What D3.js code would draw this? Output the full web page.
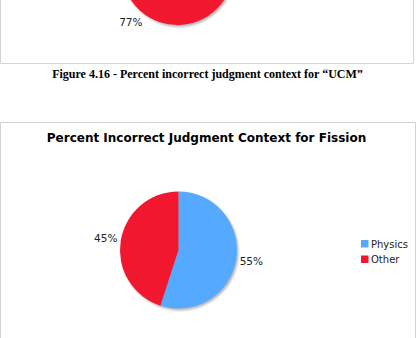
<!DOCTYPE html>
<html>
<head>
<meta charset="utf-8">
<script src="https://cdn.jsdelivr.net/npm/d3@7"></script>
<style>
  html, body { margin: 0; padding: 0; background: #fff; }
  svg { display: block; }
</style>
</head>
<body>
<svg id="chart" width="417" height="338"></svg>
<script>
const categories = ["Physics", "Other"];
const colors = ["#55aaff", "#f0172f"];
const ucmValues = [23, 77];
const fissionValues = [55, 45];
const captionText = "Figure 4.16 - Percent incorrect judgment context for \u201CUCM\u201D";
const titleText = "Percent Incorrect Judgment Context for Fission";

const W = 417, H = 338;
const svg = d3.select("#chart");
const defs = svg.append("defs");
const f = defs.append("filter").attr("id", "blur").attr("x", "-20%").attr("y", "-20%").attr("width", "140%").attr("height", "140%");
f.append("feGaussianBlur").attr("stdDeviation", 1);

const color = d3.scaleOrdinal().domain(categories).range(colors);
const pie = d3.pie().sort(null).value(d => d.value);

function drawPie(values, cx, cy, r) {
  const data = categories.map((c, i) => ({ cat: c, value: values[i] }));
  const total = d3.sum(values);
  const g = svg.append("g").attr("transform", `translate(${cx},${cy})`);
  g.append("circle").attr("cx", 1.5).attr("cy", 2).attr("r", r).attr("fill", "#b8b8b8").attr("filter", "url(#blur)");
  const arc = d3.arc().innerRadius(0).outerRadius(r);
  const arcs = pie(data);
  g.selectAll("path.slice").data(arcs).join("path").attr("class", "slice")
    .attr("d", arc).attr("fill", d => color(d.data.cat));
  const labelArc = d3.arc().innerRadius(r * 1.26).outerRadius(r * 1.26);
  // only labels that fall inside the visible page area (the top chart is cropped)
  const visible = arcs.filter(d => {
    const [x, y] = labelArc.centroid(d);
    return cy + y > 8 && cy + y < H - 8 && cx + x > 10 && cx + x < W - 10;
  });
  g.selectAll("text.lbl").data(visible).join("text").attr("class", "lbl")
    .attr("transform", d => `translate(${labelArc.centroid(d)})`)
    .attr("text-anchor", "middle").attr("dy", "0.35em")
    .style("font-family", "DejaVu Sans, Verdana, sans-serif").style("font-size", "10.5px").attr("fill", "#222")
    .text(d => Math.round(d.data.value / total * 100) + "%");
}

// top (cut-off) chart box
svg.append("path").attr("d", "M0.5,-5 V63.5 H413.5 V-5").attr("fill", "none").attr("stroke", "#d4d4d4");
drawPie(ucmValues, 177.5, -31, 56);

// caption
svg.append("text").attr("x", 207.5).attr("y", 78).attr("text-anchor", "middle")
  .style("font-family", "Liberation Serif, Times New Roman, serif").style("font-weight", "bold").style("font-size", "12px")
  .attr("fill", "#000").text(captionText);

// second chart box
svg.append("path").attr("d", "M0.5,345 V122.5 H415.5 V345").attr("fill", "none").attr("stroke", "#d4d4d4");
svg.append("text").attr("x", 206.5).attr("y", 141.5).attr("text-anchor", "middle")
  .style("font-family", "DejaVu Sans, Verdana, sans-serif").style("font-weight", "bold").style("font-size", "12px")
  .attr("fill", "#000").text(titleText);

drawPie(fissionValues, 178.5, 250, 58.5);

// legend
const legend = svg.append("g").attr("transform", "translate(361,240)");
const items = legend.selectAll("g").data(categories).join("g").attr("transform", (d, i) => `translate(0,${i * 15.5})`);
items.append("rect").attr("width", 7.5).attr("height", 7.5).attr("fill", d => color(d));
items.append("text").attr("x", 10).attr("y", 4).attr("dy", "0.35em")
  .style("font-family", "DejaVu Sans, Verdana, sans-serif").style("font-size", "10px").attr("fill", "#222").text(d => d);
</script>
</body>
</html>
